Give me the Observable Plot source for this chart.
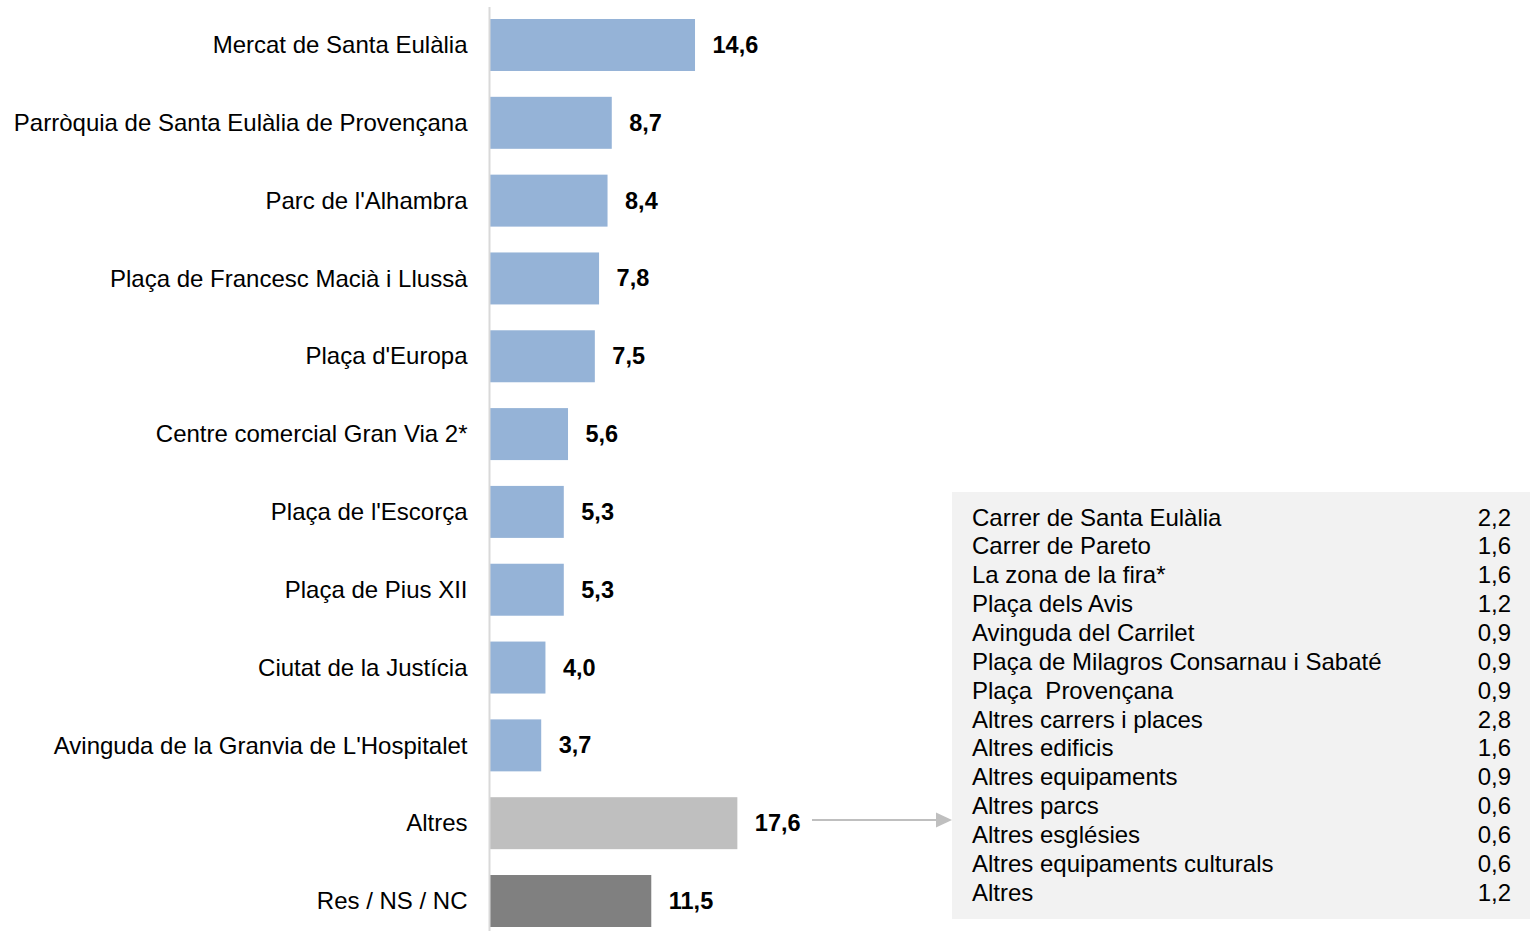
<!DOCTYPE html>
<html>
<head>
<meta charset="utf-8">
<script src="https://cdn.jsdelivr.net/npm/d3@7"></script>
<script src="https://cdn.jsdelivr.net/npm/@observablehq/plot@0.6"></script>
<style>
  body { margin: 0; background: #fff; font-family: "Liberation Sans", Arial, sans-serif; }
  #wrap { position: relative; width: 1538px; height: 931px; }
  #chart { position: absolute; left: 0; top: 0; }
  #box { position: absolute; left: 952px; top: 492px; width: 578px; height: 427px; background: #f2f2f2; }
  #box .row { position: absolute; left: 20px; right: 19px; height: 28.85px; font-size: 24px; line-height: 28.85px; color: #000; }
  #box .row .v { position: absolute; right: 0; top: 0; }
  #arrow { position: absolute; left: 0; top: 0; pointer-events: none; }
</style>
</head>
<body>
<div id="wrap">
  <div id="chart"></div>
  <div id="box"></div>
  <svg id="arrow" width="1538" height="931"></svg>
</div>
<script>
const categories = [
  "Mercat de Santa Eulàlia",
  "Parròquia de Santa Eulàlia de Provençana",
  "Parc de l'Alhambra",
  "Plaça de Francesc Macià i Llussà",
  "Plaça d'Europa",
  "Centre comercial Gran Via 2*",
  "Plaça de l'Escorça",
  "Plaça de Pius XII",
  "Ciutat de la Justícia",
  "Avinguda de la Granvia de L'Hospitalet",
  "Altres",
  "Res / NS / NC"
];
const values = [14.6, 8.7, 8.4, 7.8, 7.5, 5.6, 5.3, 5.3, 4.0, 3.7, 17.6, 11.5];
const groups = ["main","main","main","main","main","main","main","main","main","main","altres","nsnc"];

const otherLabels = [
  "Carrer de Santa Eulàlia",
  "Carrer de Pareto",
  "La zona de la fira*",
  "Plaça dels Avis",
  "Avinguda del Carrilet",
  "Plaça de Milagros Consarnau i Sabaté",
  "Plaça  Provençana",
  "Altres carrers i places",
  "Altres edificis",
  "Altres equipaments",
  "Altres parcs",
  "Altres esglésies",
  "Altres equipaments culturals",
  "Altres"
];
const otherValues = [2.2, 1.6, 1.6, 1.2, 0.9, 0.9, 0.9, 2.8, 1.6, 0.9, 0.6, 0.6, 0.6, 1.2];

const data = categories.map((c, i) => ({cat: c, value: values[i], group: groups[i]}));
const fmt = v => v.toFixed(1).replace(".", ",");

const chart = Plot.plot({
  width: 1538,
  height: 931,
  marginLeft: 489,
  marginRight: 0,
  marginTop: 19,
  marginBottom: 4,
  style: { fontFamily: "'Liberation Sans', Arial, sans-serif", fontSize: "24px", color: "#000", background: "#fff" },
  x: { domain: [0, 74.34], axis: null },
  y: { domain: categories, paddingInner: 0.332, paddingOuter: 0, round: false, label: null },
  color: { domain: ["main", "altres", "nsnc"], range: ["#95b3d7", "#bfbfbf", "#808080"] },
  marks: [
    Plot.barX(data, { y: "cat", x: "value", fill: "group", insetLeft: 1 }),
    Plot.ruleX([0], { stroke: "#d9d9d9", strokeWidth: 2, insetTop: -12, insetBottom: -4 }),
    Plot.text(data, { y: "cat", x: "value", text: d => fmt(d.value), dx: 17, textAnchor: "start", fontWeight: "bold", fontSize: 23.5, fill: "#000" }),
    Plot.axisY({ tickSize: 0, tickPadding: 22, fontSize: 24, label: null, fill: "#000" })
  ]
});
document.getElementById("chart").appendChild(chart);

const box = document.getElementById("box");
otherLabels.forEach((l, i) => {
  const row = document.createElement("div");
  row.className = "row";
  row.style.top = (11.6 + i * 28.85) + "px";
  const a = document.createElement("span");
  a.textContent = l;
  a.style.whiteSpace = "pre";
  const b = document.createElement("span");
  b.className = "v";
  b.textContent = fmt(otherValues[i]);
  row.appendChild(a); row.appendChild(b);
  box.appendChild(row);
});

const ns = "http://www.w3.org/2000/svg";
const arr = document.getElementById("arrow");
const line = document.createElementNS(ns, "line");
line.setAttribute("x1", 812); line.setAttribute("x2", 938);
line.setAttribute("y1", 820); line.setAttribute("y2", 820);
line.setAttribute("stroke", "#bfbfbf"); line.setAttribute("stroke-width", 2);
arr.appendChild(line);
const head = document.createElementNS(ns, "path");
head.setAttribute("d", "M936,812.5 L952,820 L936,827.5 Z");
head.setAttribute("fill", "#bfbfbf");
arr.appendChild(head);
</script>
</body>
</html>
